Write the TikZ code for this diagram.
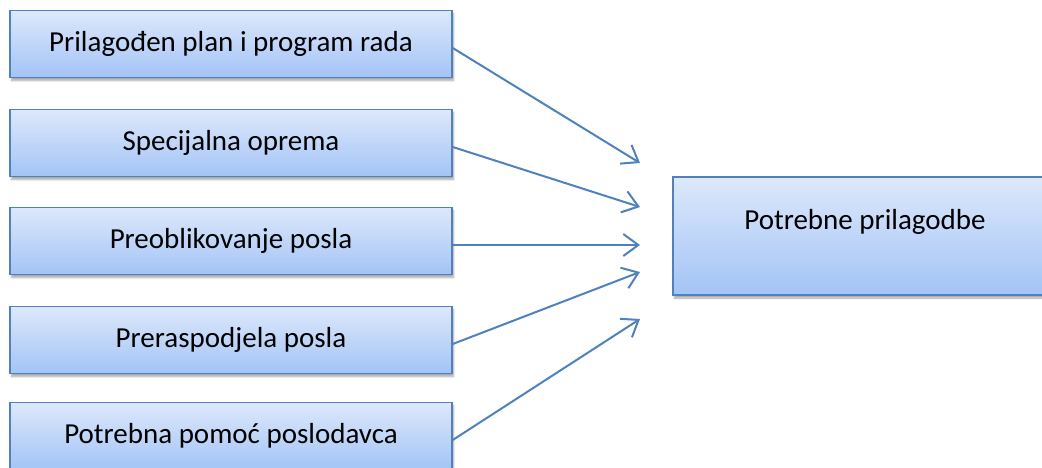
\documentclass[tikz,border=0pt]{standalone}
\usepackage{fontspec}
\setmainfont{Carlito}
\usetikzlibrary{arrows.meta,positioning,shadows.blur}
\definecolor{boxline}{RGB}{79,129,189}
\definecolor{boxtop}{RGB}{221,232,251}
\definecolor{boxbot}{RGB}{163,196,246}
\tikzset{
  stepbox/.style={draw=boxline, line width=1.5pt, top color=boxtop, bottom color=boxbot,
    inner sep=0pt, font=\fontsize{29}{34}\selectfont,
    blur shadow={shadow xshift=1.5pt, shadow yshift=-3pt, shadow blur steps=6, shadow opacity=35}},
  leftbox/.style={stepbox, minimum width=442pt, minimum height=67pt},
  link/.style={draw=boxline, line width=2pt, -{Straight Barb[length=15pt,width=22pt,line width=2pt]}}
}

\begin{document}
\begin{tikzpicture}[x=1pt,y=-1pt]
  \path[use as bounding box, clip] (0,0) rectangle (1042,468);
  % left column
  \node[leftbox] (pl) at (231,44) {Prilagođen plan i program rada};
  \node[leftbox] (so) at (231,143) {Specijalna oprema};
  \node[leftbox] (pr) at (231,241) {Preoblikovanje posla};
  \node[leftbox] (ra) at (231,340) {Preraspodjela posla};
  \node[leftbox] (pp) at (231,436) {Potrebna pomoć poslodavca};
  % right box, runs past the right edge
  \node[stepbox, minimum width=384pt, minimum height=118pt, text depth=33pt] (pb) at (865,236) {Potrebne prilagodbe};
  % arrow tips
  \coordinate (t1) at (640,163);
  \coordinate (t2) at (640,207);
  \coordinate (t3) at (640,245);
  \coordinate (t4) at (640,272);
  \coordinate (t5) at (640,319);
  \draw[link] ([yshift=-4pt]pl.east) -- (t1);
  \draw[link] ([yshift=-4pt]so.east) -- (t2);
  \draw[link] ([yshift=-4pt]pr.east) -- (t3);
  \draw[link] ([yshift=-4pt]ra.east) -- (t4);
  \draw[link] ([yshift=-4pt]pp.east) -- (t5);
\end{tikzpicture}
\end{document}
